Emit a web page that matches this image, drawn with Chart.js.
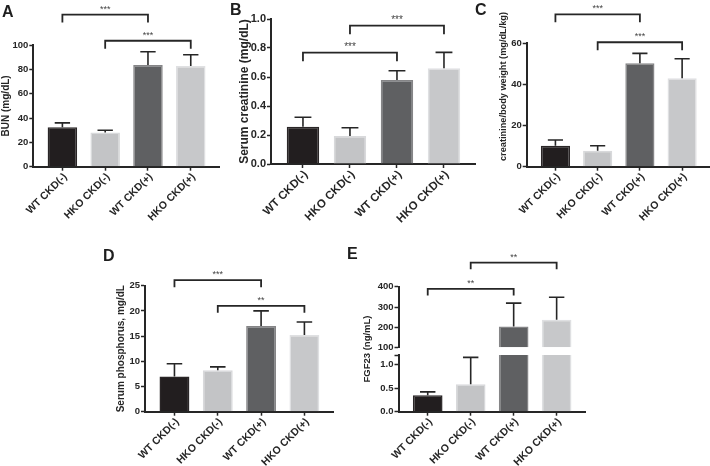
<!DOCTYPE html>
<html>
<head>
<meta charset="utf-8">
<script src="https://cdn.jsdelivr.net/npm/chart.js@4.4.1/dist/chart.umd.min.js"></script>
<style>
  html, body { margin: 0; padding: 0; background: #fff; }
  #fig { position: relative; width: 710px; height: 466px; overflow: hidden; }
  #fig canvas { position: absolute; left: 0; top: 0; }
  .tag { position: absolute; font: bold 16px/16px 'Liberation Sans', Arial, sans-serif; color: #1e1e1e; }
</style>
</head>
<body>
<div id="fig">
  <!-- lienzos más altos que la figura: las etiquetas giradas necesitan sitio bajo el eje -->
  <canvas id="panel-a" width="710" height="520"></canvas>
  <canvas id="panel-b" width="710" height="520"></canvas>
  <canvas id="panel-c" width="710" height="520"></canvas>
  <canvas id="panel-d" width="710" height="520"></canvas>
  <canvas id="panel-e-top" width="710" height="520"></canvas>
  <canvas id="panel-e-low" width="710" height="520"></canvas>
  <div class="tag" style="left:2px;top:4px">A</div>
  <div class="tag" style="left:230px;top:2px">B</div>
  <div class="tag" style="left:475px;top:2px">C</div>
  <div class="tag" style="left:103px;top:248px">D</div>
  <div class="tag" style="left:347px;top:246px">E</div>
</div>
<script>
'use strict';

const CATEGORIES = ['WT CKD(-)', 'HKO CKD(-)', 'WT CKD(+)', 'HKO CKD(+)'];

// A · BUN
const BUN_MEAN   = [32.5, 28.0, 83.5, 82.8];
const BUN_SD     = [3.5, 2.0, 11.0, 9.2];
const BUN_TICKS  = [0, 20, 40, 60, 80, 100];
const BUN_LABELS = ['0', '20', '40', '60', '80', '100'];
const BUN_SIG    = [{ a: 0, b: 2, level: 125, text: '***' }, { a: 1, b: 3, level: 103.5, text: '***' }];

// B · creatinina sérica
const SCR_MEAN   = [0.257, 0.193, 0.579, 0.66];
const SCR_SD     = [0.065, 0.057, 0.064, 0.11];
const SCR_TICKS  = [0, 0.2, 0.4, 0.6, 0.8, 1.0];
const SCR_LABELS = ['0.0', '0.2', '0.4', '0.6', '0.8', '1.0'];
const SCR_SIG    = [{ a: 0, b: 2, level: 0.768, text: '***' }, { a: 1, b: 3, level: 0.954, text: '***' }];

// C · creatinina / peso
const CBW_MEAN   = [10.2, 7.8, 50.3, 43.0];
const CBW_SD     = [2.8, 2.4, 4.8, 9.5];
const CBW_TICKS  = [0, 20, 40, 60];
const CBW_LABELS = ['0', '20', '40', '60'];
const CBW_SIG    = [{ a: 0, b: 2, level: 74.1, text: '***' }, { a: 1, b: 3, level: 60.5, text: '***' }];

// D · fósforo
const PHO_MEAN   = [7.0, 8.2, 17.0, 15.2];
const PHO_SD     = [2.5, 0.7, 3.0, 2.6];
const PHO_TICKS  = [0, 5, 10, 15, 20, 25];
const PHO_LABELS = ['0', '5', '10', '15', '20', '25'];
const PHO_SIG    = [{ a: 0, b: 2, level: 26.1, text: '***' }, { a: 1, b: 3, level: 21.0, text: '**' }];

// E · FGF23 (eje partido)
const FGF_MEAN       = [0.35, 0.58, 204, 237];
const FGF_SD         = [0.07, 0.57, 115, 111];
const FGF_TOP_TICKS  = [100, 200, 300, 400];
const FGF_TOP_LABELS = ['100', '200', '300', '400'];
const FGF_LOW_TICKS  = [0, 0.5, 1.0, 1.2];
const FGF_LOW_LABELS = ['0.0', '0.5', '1.0', ''];
const FGF_SIG        = [{ a: 0, b: 2, level: 389, text: '**' }, { a: 1, b: 3, level: 518, text: '**' }];

const FONT = "'Liberation Sans', Arial, sans-serif";
const INK = '#262626';
const BAR_FILL = ['#221e1f', '#c3c4c6', '#5f6062', '#c7c8ca'];
const BAR_EDGE = ['#2a2627', '#d8d9db', '#858587', '#dfe0e2'];
const X_MIN = -0.68, X_MAX = 3.66, BAR_PCT = 0.69;
const W = 710, H = 520;

const errorBars = {
  id: 'errorBars',
  afterDatasetsDraw(chart, _args, opts) {
    const { x, y } = chart.scales;
    const ctx = chart.ctx;
    const step = x.getPixelForValue(1) - x.getPixelForValue(0);
    const half = step * BAR_PCT * 0.26;
    ctx.save();
    ctx.strokeStyle = INK;
    ctx.lineWidth = 1.6;
    opts.mean.forEach((m, i) => {
      if (m < y.min || m > y.max) return;
      const px = x.getPixelForValue(i);
      const y0 = y.getPixelForValue(m);
      const y1 = y.getPixelForValue(m + opts.sd[i]);
      ctx.beginPath();
      ctx.moveTo(px, y0);
      ctx.lineTo(px, y1);
      ctx.moveTo(px - half, y1);
      ctx.lineTo(px + half, y1);
      ctx.stroke();
    });
    ctx.restore();
  }
};

const sigBrackets = {
  id: 'sigBrackets',
  afterDraw(chart, _args, opts) {
    if (!opts.list || !opts.list.length) return;
    const { x, y } = chart.scales;
    const ctx = chart.ctx;
    ctx.save();
    ctx.strokeStyle = INK;
    ctx.lineWidth = 1.8;
    ctx.fillStyle = '#444';
    ctx.font = `${opts.starSize}px ${FONT}`;
    ctx.textAlign = 'center';
    ctx.textBaseline = 'alphabetic';
    opts.list.forEach(s => {
      const x1 = x.getPixelForValue(s.a);
      const x2 = x.getPixelForValue(s.b);
      const yy = y.getPixelForValue(s.level);
      ctx.beginPath();
      ctx.moveTo(x1, yy + opts.drop);
      ctx.lineTo(x1, yy);
      ctx.lineTo(x2, yy);
      ctx.lineTo(x2, yy + opts.drop);
      ctx.stroke();
      ctx.fillText(s.text, (x1 + x2) / 2, yy - 3);
    });
    ctx.restore();
  }
};

// título vertical libre (eje partido de E, título desplazado de C)
const sideTitle = {
  id: 'sideTitle',
  afterDraw(chart, _args, opts) {
    if (!opts.text) return;
    const ctx = chart.ctx;
    ctx.save();
    ctx.translate(opts.x, opts.y);
    ctx.rotate(-Math.PI / 2);
    ctx.fillStyle = INK;
    ctx.font = `bold ${opts.size}px ${FONT}`;
    ctx.textAlign = 'center';
    ctx.textBaseline = 'middle';
    ctx.fillText(opts.text, 0, 0);
    ctx.restore();
  }
};

function makePanel(canvasId, p) {
  const box = p.box;
  const yFont = { family: FONT, size: p.tickSize, weight: 'bold' };
  const xFont = { family: FONT, size: p.xTickSize || p.tickSize, weight: 'bold' };
  const titleSize = p.titleSize || 10;
  const padLeft = p.title ? box.titleX - 0.6 * titleSize : box.left - 40;
  const showX = p.showX !== false;
  const xHeight = showX ? 80 : 0;
  const dataset = {
    data: p.bars.map((v, i) => ({ x: i, y: v })),
    backgroundColor: BAR_FILL,
    borderColor: BAR_EDGE,
    borderWidth: 1.5,
    barPercentage: BAR_PCT,
    categoryPercentage: 1,
    clip: 0
  };
  if (p.base != null) dataset.base = p.base;
  const gridOpts = { offset: false, drawOnChartArea: false, drawTicks: true, tickLength: 4, tickWidth: 1.5, tickColor: INK };
  return new Chart(document.getElementById(canvasId), {
    type: 'bar',
    data: { datasets: [dataset] },
    options: {
      responsive: false,
      animation: false,
      events: [],
      layout: { padding: { left: padLeft, top: box.top, right: W - box.right, bottom: H - box.bottom - xHeight } },
      plugins: {
        legend: { display: false },
        tooltip: { enabled: false },
        errorBars: { mean: p.mean, sd: p.sd },
        sigBrackets: { list: p.sig || [], drop: p.drop || 8, starSize: p.starSize || 8.5 },
        sideTitle: p.sideTitle || {}
      },
      scales: {
        x: {
          type: 'linear',
          min: X_MIN,
          max: X_MAX,
          offset: false,
          display: showX,
          afterBuildTicks: s => { s.ticks = CATEGORIES.map((_, i) => ({ value: i })); },
          afterFit: s => { s.height = xHeight; },
          grid: gridOpts,
          border: { display: true, color: INK, width: 2 },
          ticks: {
            autoSkip: false, minRotation: 45, maxRotation: 45, padding: 0, labelOffset: 3,
            color: INK, font: xFont,
            callback: v => CATEGORIES[Math.round(v)]
          }
        },
        y: {
          min: p.yMin,
          max: p.yMax,
          afterBuildTicks: s => { s.ticks = p.yTicks.map(v => ({ value: v })); },
          afterFit: s => { s.width = box.left - padLeft; },
          grid: gridOpts,
          border: { display: true, color: INK, width: 2 },
          ticks: { padding: 1, color: INK, font: yFont, callback: (v, i) => p.yLabels[i] },
          title: p.title
            ? { display: true, text: p.title, color: INK, padding: 0, font: { family: FONT, size: titleSize, weight: 'bold' } }
            : { display: false }
        }
      }
    },
    plugins: [errorBars, sigBrackets, sideTitle]
  });
}

makePanel('panel-a', {
  bars: BUN_MEAN, mean: BUN_MEAN, sd: BUN_SD, yMin: 0, yMax: 100, yTicks: BUN_TICKS, yLabels: BUN_LABELS,
  sig: BUN_SIG, title: 'BUN (mg/dL)', titleSize: 10, tickSize: 9.5, xTickSize: 10.5, starSize: 9, drop: 8,
  box: { left: 33.3, right: 219, top: 45, bottom: 166.7, titleX: 6 }
});

makePanel('panel-b', {
  bars: SCR_MEAN, mean: SCR_MEAN, sd: SCR_SD, yMin: 0, yMax: 1, yTicks: SCR_TICKS, yLabels: SCR_LABELS,
  sig: SCR_SIG, title: 'Serum creatinine (mg/dL)', titleSize: 12, tickSize: 11, xTickSize: 11.5, starSize: 10, drop: 8.5,
  box: { left: 271, right: 475, top: 19, bottom: 164, titleX: 245 }
});

makePanel('panel-c', {
  bars: CBW_MEAN, mean: CBW_MEAN, sd: CBW_SD, yMin: 0, yMax: 60, yTicks: CBW_TICKS, yLabels: CBW_LABELS,
  sig: CBW_SIG, tickSize: 9.5, xTickSize: 10.5, starSize: 9, drop: 8,
  sideTitle: { text: 'creatinine/body weight (mg/dL/kg)', x: 503, y: 86.5, size: 9.2 },
  box: { left: 526.7, right: 710, top: 43.3, bottom: 166.7 }
});

makePanel('panel-d', {
  bars: PHO_MEAN, mean: PHO_MEAN, sd: PHO_SD, yMin: 0, yMax: 25, yTicks: PHO_TICKS, yLabels: PHO_LABELS,
  sig: PHO_SIG, title: 'Serum phosphorus, mg/dL', titleSize: 10, tickSize: 9.5, xTickSize: 10.5, starSize: 9, drop: 7,
  box: { left: 145, right: 333, top: 285.7, bottom: 411.7, titleX: 121.5 }
});

makePanel('panel-e-top', {
  bars: FGF_MEAN.map(v => (v >= 100 ? v : null)), base: 100, mean: FGF_MEAN, sd: FGF_SD,
  yMin: 100, yMax: 400, yTicks: FGF_TOP_TICKS, yLabels: FGF_TOP_LABELS,
  sig: FGF_SIG, tickSize: 9.5, starSize: 9, drop: 6.5, showX: false,
  box: { left: 398.5, right: 585, top: 286.7, bottom: 347.7 }
});

makePanel('panel-e-low', {
  bars: FGF_MEAN, mean: FGF_MEAN, sd: FGF_SD,
  yMin: 0, yMax: 1.2, yTicks: FGF_LOW_TICKS, yLabels: FGF_LOW_LABELS,
  tickSize: 9.5, xTickSize: 10.5,
  sideTitle: { text: 'FGF23 (ng/mL)', x: 367.5, y: 349, size: 9.5 },
  box: { left: 398.5, right: 585, top: 355, bottom: 411.7 }
});
</script>
</body>
</html>
